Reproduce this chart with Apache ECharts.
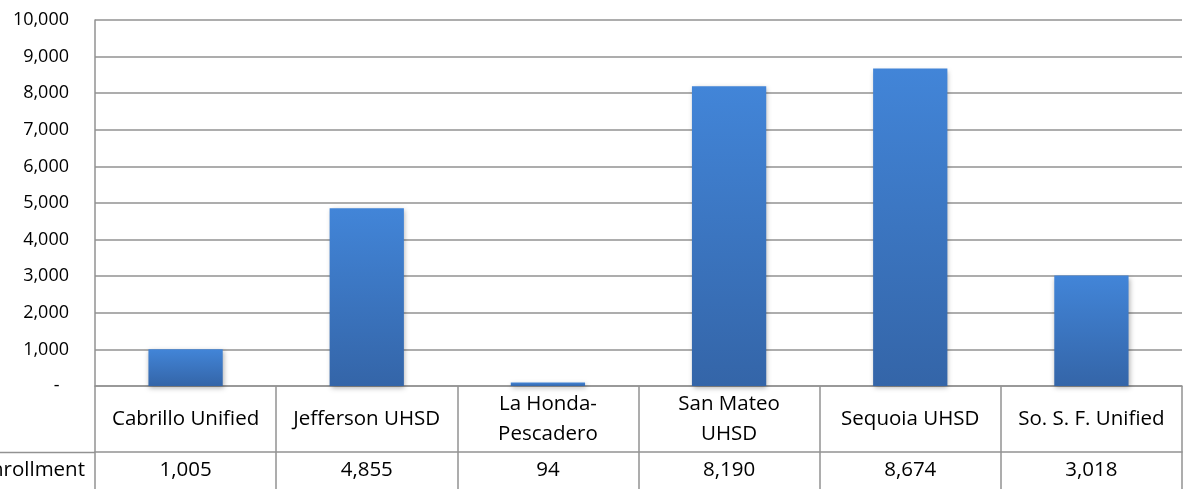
<!DOCTYPE html>
<html>
<head>
<meta charset="utf-8">
<script src="https://cdn.jsdelivr.net/npm/echarts@6/dist/echarts.min.js"></script>
<style>
html,body{margin:0;padding:0;background:#fff;}
#chart{width:1187px;height:489px;}
</style>
</head>
<body>
<div id="chart"></div>
<script>
var categories = ['Cabrillo Unified', 'Jefferson UHSD', 'La Honda-\nPescadero', 'San Mateo\nUHSD', 'Sequoia UHSD', 'So. S. F. Unified'];
var enrollment = [1005, 4855, 94, 8190, 8674, 3018];
var seriesName = 'Enrollment';
var yMin = 0, yMax = 10000, yStep = 1000;

var fmt = function (v) { return v.toLocaleString('en-US'); };
var FONT = '"Open Sans", "Liberation Sans", sans-serif';
var LINE = '#929292';
var LW = 1.5;

var chart = echarts.init(document.getElementById('chart'), null, {renderer: 'canvas'});
chart.setOption({
  animation: false,
  backgroundColor: '#ffffff',
  textStyle: {fontFamily: FONT, color: '#000'},
  grid: {left: 95, right: 5, top: 20, bottom: 103, containLabel: false, outerBoundsMode: 'none'},
  xAxis: [{
    type: 'category',
    data: categories,
    position: 'bottom',
    boundaryGap: true,
    axisLine: {show: true, lineStyle: {color: LINE, width: LW}},
    axisTick: {show: true, interval: 0, length: 103, lineStyle: {color: LINE, width: LW}},
    axisLabel: {
      interval: 0, margin: 33, verticalAlign: 'middle',
      fontFamily: FONT, fontSize: 20.5, color: '#000', lineHeight: 30
    },
    splitLine: {show: false}
  }, {
    type: 'category',
    data: categories,
    position: 'bottom',
    offset: 66,
    boundaryGap: true,
    name: '\n' + seriesName,
    nameLocation: 'start',
    nameGap: 10,
    nameTextStyle: {fontFamily: FONT, fontSize: 20.5, color: '#000', verticalAlign: 'middle', align: 'right', lineHeight: 36},
    axisLine: {show: true, lineStyle: {color: LINE, width: LW}},
    axisTick: {show: false},
    axisLabel: {
      interval: 0, margin: 18, verticalAlign: 'middle',
      fontFamily: FONT, fontSize: 20.5, color: '#000',
      formatter: function (v, i) { return fmt(enrollment[i]); }
    },
    splitLine: {show: false}
  }],
  yAxis: {
    type: 'value',
    min: yMin, max: yMax, interval: yStep,
    axisLine: {show: true, lineStyle: {color: LINE, width: LW}},
    axisTick: {show: false},
    axisLabel: {
      margin: 26, fontFamily: FONT, fontSize: 18, color: '#000',
      formatter: function (v) { return v === 0 ? '-  ' : fmt(v); }
    },
    splitLine: {show: true, lineStyle: {color: LINE, width: LW}}
  },
  graphic: [{
    type: 'line',
    shape: {x1: 0, y1: 452.5, x2: 95, y2: 452.5},
    style: {stroke: LINE, lineWidth: LW},
    silent: true
  }],
  series: [{
    name: seriesName,
    type: 'bar',
    xAxisIndex: 0,
    data: enrollment,
    barWidth: '41%',
    itemStyle: {
      color: new echarts.graphic.LinearGradient(0, 0, 0, 1, [
        {offset: 0, color: '#4285d8'},
        {offset: 1, color: '#3465a8'}
      ]),
      shadowBlur: 5,
      shadowColor: 'rgba(0,0,0,0.3)',
      shadowOffsetX: 1,
      shadowOffsetY: 2
    }
  }]
});
</script>
</body>
</html>
